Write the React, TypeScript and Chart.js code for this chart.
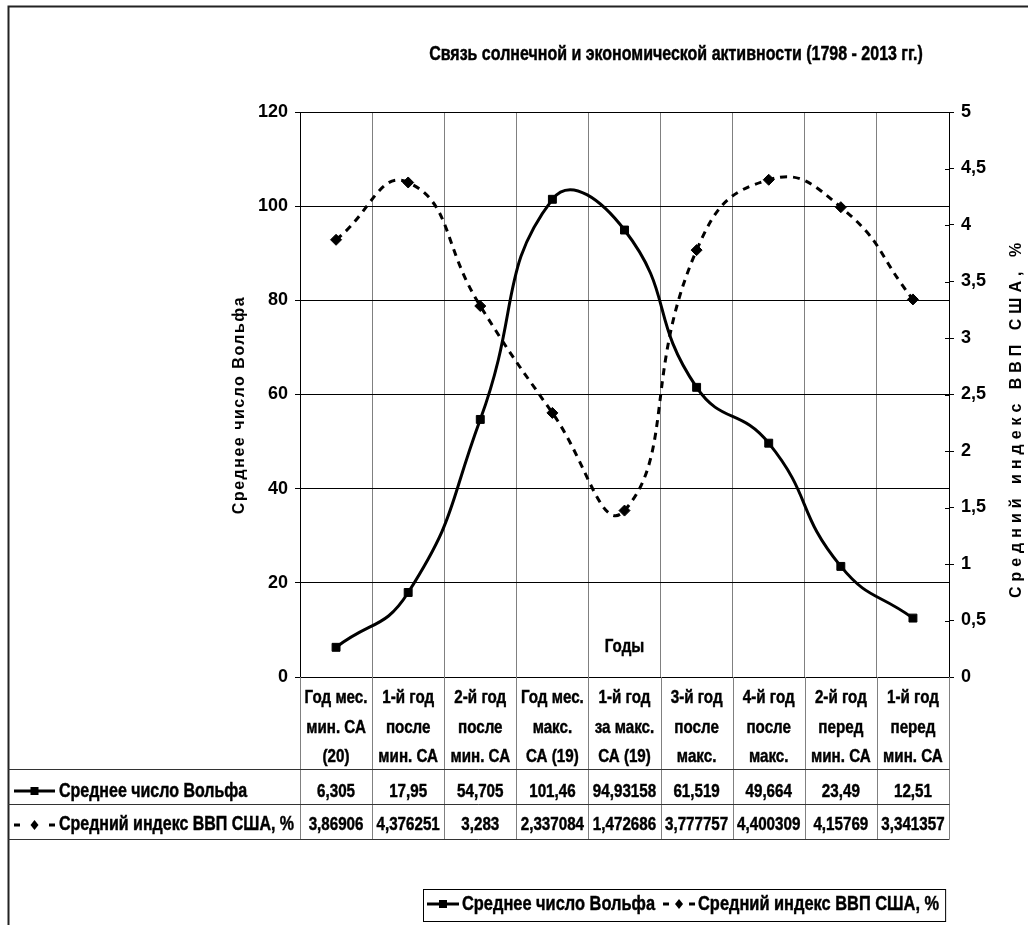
import React, { useEffect, useRef } from 'react';
import { Chart, registerables } from 'chart.js';

Chart.register(...registerables);

// ---------- data ----------
const categoryLines: string[][] = [
  ['Год мес.', 'мин. СА', '(20)'],
  ['1-й год', 'после', 'мин. СА'],
  ['2-й год', 'после', 'мин. СА'],
  ['Год мес.', 'макс.', 'СА (19)'],
  ['1-й год', 'за макс.', 'СА (19)'],
  ['3-й год', 'после', 'макс.'],
  ['4-й год', 'после', 'макс.'],
  ['2-й год', 'перед', 'мин. СА'],
  ['1-й год', 'перед', 'мин. СА'],
];
const wolfName = 'Среднее число Вольфа';
const gdpName = 'Средний индекс ВВП США, %';
const wolfValues = [6.305, 17.95, 54.705, 101.46, 94.93158, 61.519, 49.664, 23.49, 12.51];
const gdpValues = [3.86906, 4.376251, 3.283, 2.337084, 1.472686, 3.777757, 4.400309, 4.15769, 3.341357];
const leftTicks = [0, 20, 40, 60, 80, 100, 120];
const rightTicks = [0, 0.5, 1, 1.5, 2, 2.5, 3, 3.5, 4, 4.5, 5];
const chartTitle = 'Связь солнечной и экономической активности (1798 - 2013 гг.)';
const xTitle = 'Годы';
const leftTitle = 'Среднее число Вольфа';
const rightTitle = 'Средний индекс ВВП США, %';

const fmt = (v: number) => String(v).replace('.', ',');

function fontAvailable(name: string): boolean {
  const c = document.createElement('canvas').getContext('2d')!;
  const s = 'abcdefghij АБВГДЕЖЗ 0123456789';
  c.font = 'bold 20px monospace';
  const a = c.measureText(s).width;
  c.font = `bold 20px '${name}', monospace`;
  const b = c.measureText(s).width;
  return Math.abs(a - b) > 0.5;
}

export default function App() {
  const ref = useRef<HTMLCanvasElement | null>(null);

  useEffect(() => {
    const canvas = ref.current;
    if (!canvas) return;
    const narrowOK = fontAvailable('Liberation Sans Narrow');
    const NARROW = narrowOK ? "'Liberation Sans Narrow'" : "'Liberation Sans', Arial, sans-serif";
    const SQUEEZE = narrowOK ? 1 : 0.82;
    const tickFamily = "'Liberation Sans Narrow', 'Liberation Sans', Arial, sans-serif";

    const txt = (
      ctx: CanvasRenderingContext2D,
      t: string,
      x: number,
      y: number,
      size: number,
      align: CanvasTextAlign = 'center'
    ) => {
      ctx.save();
      ctx.translate(x, y);
      ctx.scale(SQUEEZE, 1);
      ctx.font = `bold ${size}px ${NARROW}`;
      ctx.textAlign = align;
      ctx.textBaseline = 'middle';
      ctx.fillStyle = '#000';
      ctx.strokeStyle = '#000';
      ctx.lineWidth = 0.45;
      ctx.fillText(t, 0, 0);
      ctx.strokeText(t, 0, 0);
      const w = ctx.measureText(t).width * SQUEEZE;
      ctx.restore();
      return w;
    };
    const measure = (ctx: CanvasRenderingContext2D, t: string, size: number) => {
      ctx.save();
      ctx.font = `bold ${size}px ${NARROW}`;
      const w = ctx.measureText(t).width * SQUEEZE;
      ctx.restore();
      return w;
    };

    const wolfSample = (ctx: CanvasRenderingContext2D, x0: number, x1: number, y: number) => {
      ctx.save();
      ctx.strokeStyle = '#000';
      ctx.lineWidth = 3;
      ctx.beginPath();
      ctx.moveTo(x0, y);
      ctx.lineTo(x1, y);
      ctx.stroke();
      ctx.fillStyle = '#000';
      const cx = (x0 + x1) / 2;
      ctx.fillRect(cx - 4, y - 4, 8, 8);
      ctx.restore();
    };
    const gdpSample = (ctx: CanvasRenderingContext2D, x0: number, x1: number, y: number) => {
      ctx.save();
      ctx.fillStyle = '#000';
      ctx.fillRect(x0, y - 1.5, 6, 3);
      ctx.fillRect(x1 - 6, y - 1.5, 6, 3);
      const cx = (x0 + x1) / 2;
      ctx.beginPath();
      ctx.moveTo(cx, y - 5);
      ctx.lineTo(cx + 4, y);
      ctx.lineTo(cx, y + 5);
      ctx.lineTo(cx - 4, y);
      ctx.closePath();
      ctx.fill();
      ctx.restore();
    };

    const decor = {
      id: 'decor',
      afterDraw(chart: any) {
        const ctx: CanvasRenderingContext2D = chart.ctx;
        const area = chart.chartArea;
        const xs = chart.scales.x;
        const y1s = chart.scales.y1;
        const n = categoryLines.length;
        const cw = (area.right - area.left) / n;
        const tableTop = area.bottom;
        const hdrBottom = 769;
        const row1Bottom = 804;
        const row2Bottom = 839;
        const tableLeft = 8;

        // frame
        ctx.save();
        ctx.strokeStyle = '#222';
        ctx.lineWidth = 2;
        ctx.beginPath();
        ctx.moveTo(8.5, 925);
        ctx.lineTo(8.5, 6.5);
        ctx.lineTo(1028, 6.5);
        ctx.stroke();
        ctx.restore();

        // inner half of the cross tick marks on the right axis
        ctx.save();
        ctx.strokeStyle = '#000';
        ctx.lineWidth = 1;
        for (const v of rightTicks) {
          const yy = Math.round(y1s.getPixelForValue(v)) + 0.5;
          ctx.beginPath();
          ctx.moveTo(area.right - 4, yy);
          ctx.lineTo(area.right, yy);
          ctx.stroke();
        }
        ctx.restore();

        // table lines
        ctx.save();
        ctx.lineWidth = 1;
        ctx.strokeStyle = '#808080';
        for (let i = 0; i <= n; i++) {
          const bx = Math.round(xs.getPixelForValue(Math.min(i, n - 1)) + (i === n ? cw / 2 : -cw / 2)) + 0.5;
          ctx.beginPath();
          ctx.moveTo(bx, tableTop);
          ctx.lineTo(bx, row2Bottom);
          ctx.stroke();
        }
        ctx.strokeStyle = '#333';
        for (const yy of [hdrBottom, row1Bottom, row2Bottom]) {
          ctx.beginPath();
          ctx.moveTo(tableLeft, yy + 0.5);
          ctx.lineTo(area.right + 0.5, yy + 0.5);
          ctx.stroke();
        }
        ctx.restore();

        // header labels and values
        for (let i = 0; i < n; i++) {
          const cx = xs.getPixelForValue(i);
          categoryLines[i].forEach((line, j) => txt(ctx, line, cx, 698 + j * 29.5, 18.5));
          txt(ctx, fmt(wolfValues[i]), cx, 792, 18.5);
          txt(ctx, fmt(gdpValues[i]), cx, 825, 18.5);
        }
        // row legends
        wolfSample(ctx, 14, 55, 791);
        txt(ctx, wolfName, 59, 792, 19.5, 'left');
        gdpSample(ctx, 14, 55, 825);
        txt(ctx, gdpName, 59, 825, 19.5, 'left');

        // title & axis titles
        txt(ctx, chartTitle, 676, 55, 19.5);
        txt(ctx, xTitle, (area.left + area.right) / 2, 647, 18.5);

        ctx.save();
        ctx.fillStyle = '#000';
        ctx.font = "bold 16px 'Liberation Sans', Arial, sans-serif";
        (ctx as any).letterSpacing = '1.5px';
        ctx.textAlign = 'center';
        ctx.textBaseline = 'middle';
        ctx.translate(240, 405);
        ctx.rotate(-Math.PI / 2);
        ctx.fillText(leftTitle, 0, 0);
        ctx.restore();

        ctx.save();
        ctx.fillStyle = '#000';
        ctx.font = "bold 16px 'Liberation Sans', Arial, sans-serif";
        (ctx as any).letterSpacing = '5px';
        ctx.textAlign = 'center';
        ctx.textBaseline = 'middle';
        ctx.translate(1017, 418);
        ctx.rotate(-Math.PI / 2);
        ctx.fillText(rightTitle, 0, 0);
        ctx.restore();

        // bottom legend
        const fs = 20;
        const w1 = measure(ctx, wolfName, fs);
        const w2 = measure(ctx, gdpName, fs);
        const sampleW = 32;
        const total = 4 + sampleW + 3 + w1 + 8 + sampleW + 3 + w2 + 6;
        const bx0 = Math.round(684 - total / 2);
        const by0 = 889;
        const by1 = 921;
        const ly = 904;
        ctx.save();
        ctx.strokeStyle = '#000';
        ctx.lineWidth = 1;
        ctx.strokeRect(bx0 + 0.5, by0 + 0.5, total, by1 - by0);
        ctx.restore();
        let cx = bx0 + 4;
        wolfSample(ctx, cx, cx + sampleW, ly);
        cx += sampleW + 3;
        txt(ctx, wolfName, cx, ly, fs, 'left');
        cx += w1 + 8;
        gdpSample(ctx, cx, cx + sampleW, ly);
        cx += sampleW + 3;
        txt(ctx, gdpName, cx, ly, fs, 'left');
      },
    };

    const chart = new Chart(canvas, {
      type: 'line',
      data: {
        labels: categoryLines.map((l) => l.join(' ')),
        datasets: [
          {
            label: wolfName,
            data: wolfValues,
            yAxisID: 'y',
            borderColor: '#000',
            backgroundColor: '#000',
            borderWidth: 3,
            tension: 0.5,
            pointStyle: 'rect',
            pointRadius: 5.6,
            pointBackgroundColor: '#000',
            pointBorderColor: '#000',
            pointBorderWidth: 1,
            fill: false,
          },
          {
            label: gdpName,
            data: gdpValues,
            yAxisID: 'y1',
            borderColor: '#000',
            backgroundColor: '#000',
            borderWidth: 3,
            borderDash: [7, 6],
            tension: 0.5,
            pointStyle: 'rectRot',
            pointRadius: 5.5,
            pointBackgroundColor: '#000',
            pointBorderColor: '#000',
            pointBorderWidth: 1,
            fill: false,
          },
        ],
      },
      options: {
        responsive: false,
        animation: false,
        events: [],
        layout: { padding: { left: 0, right: 0, top: 112, bottom: 925 - 677 } },
        plugins: {
          legend: { display: false },
          tooltip: { enabled: false },
          title: { display: false },
        },
        scales: {
          x: {
            type: 'category',
            offset: true,
            grid: { offset: true, color: '#808080', drawTicks: false, lineWidth: 1 },
            border: { display: true, color: '#000', width: 1 },
            ticks: { display: false },
            afterFit: (s: any) => {
              s.height = 0;
              s.paddingLeft = 0;
              s.paddingRight = 0;
            },
          },
          y: {
            position: 'left',
            min: 0,
            max: 120,
            afterBuildTicks: (s: any) => {
              s.ticks = leftTicks.map((v) => ({ value: v }));
            },
            ticks: {
              color: '#000',
              padding: 7,
              font: { family: tickFamily, size: 18, weight: 'bold' },
              callback: (v: any) => fmt(Number(v)),
            },
            grid: { color: '#000', tickLength: 5, lineWidth: 1 },
            border: { display: true, color: '#000', width: 1 },
            afterFit: (s: any) => {
              s.width = 300;
              s.paddingTop = 0;
              s.paddingBottom = 0;
            },
          },
          y1: {
            position: 'right',
            min: 0,
            max: 5,
            afterBuildTicks: (s: any) => {
              s.ticks = rightTicks.map((v) => ({ value: v }));
            },
            ticks: {
              color: '#000',
              padding: 7,
              font: { family: tickFamily, size: 18, weight: 'bold' },
              callback: (v: any) => fmt(Number(v)),
            },
            grid: { drawOnChartArea: false, color: '#000', tickLength: 5, lineWidth: 1 },
            border: { display: true, color: '#000', width: 1 },
            afterFit: (s: any) => {
              s.width = 1028 - 949;
              s.paddingTop = 0;
              s.paddingBottom = 0;
            },
          },
        },
      } as any,
      plugins: [decor],
    });
    return () => chart.destroy();
  }, []);

  return (
    <div style={{ position: 'absolute', left: 0, top: 0, width: 1028, height: 925, background: '#fff' }}>
      <canvas ref={ref} width={1028} height={925} style={{ display: 'block', width: 1028, height: 925 }} />
    </div>
  );
}
